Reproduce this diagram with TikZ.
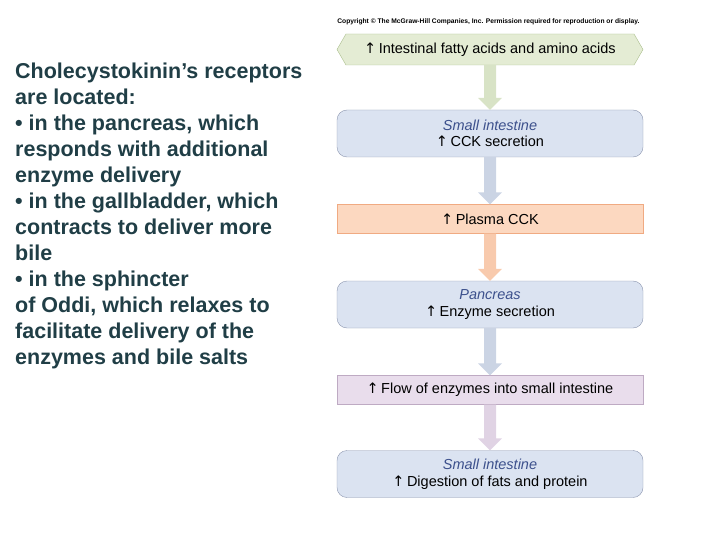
\documentclass[tikz,border=0pt]{standalone}
\usepackage{fontspec}
\setmainfont{Liberation Sans}
\newfontfamily\arrowfont{DejaVu Sans}
\usetikzlibrary{positioning,shapes.symbols,calc}
\definecolor{greenfill}{RGB}{228,236,212}
\definecolor{greenline}{RGB}{170,190,140}
\definecolor{bluefill}{RGB}{219,227,241}
\definecolor{blueline}{RGB}{140,150,175}
\definecolor{bluetext}{RGB}{60,80,140}
\definecolor{orangefill}{RGB}{252,216,192}
\definecolor{orangeline}{RGB}{240,170,130}
\definecolor{lilacfill}{RGB}{233,221,236}
\definecolor{lilacline}{RGB}{190,170,195}
\definecolor{tealtext}{RGB}{32,62,70}
\newcommand{\up}{{\arrowfont\char"2191}\,}
\newcommand{\flowarrow}[3]{%
  \fill[#3] ($(#1.south)+(-6,0)$) -- ($(#2.north)+(-6,-12)$) -- ($(#2.north)+(-12,-12)$)
    -- (#2.north) -- ($(#2.north)+(12,-12)$) -- ($(#2.north)+(6,-12)$) -- ($(#1.south)+(6,0)$) -- cycle;}

\begin{document}
\begin{tikzpicture}[x=1pt, y=-1pt,
    box/.style={minimum width=306, align=center, font=\fontsize{14.5}{16.5}\selectfont, inner sep=0},
    round box/.style={box, rounded corners=10, fill=bluefill, draw=blueline, minimum height=47},
    flat box/.style={box, minimum height=29},
    place/.style={font=\itshape, text=bluetext}]
    \useasboundingbox (0,0) rectangle (720,540);

    \node [font=\fontsize{6.7}{7}\selectfont, anchor=east] (copyright) at (643,22)
      {\textbf{Copyright \copyright\ The McGraw-Hill Companies, Inc. Permission required for reproduction or display.}};

    \node [box, signal, signal to=west and east, signal pointer angle=120, minimum height=31,
      fill=greenfill, draw=greenline] (acids) at (490,49.5) {\up Intestinal fatty acids and amino acids};
    \node [round box] (intestine1) at (490,133.5) {{\color{bluetext}\itshape Small intestine}\\ \up CCK secretion};
    \node [flat box, fill=orangefill, draw=orangeline] (plasma) at (490,219) {\up Plasma CCK};
    \node [round box] (pancreas) at (490,304.5) {{\color{bluetext}\itshape Pancreas}\\ \up Enzyme secretion};
    \node [flat box, fill=lilacfill, draw=lilacline] (flow) at (490,390) {\up Flow of enzymes into small intestine};
    \node [round box] (intestine2) at (490,474) {{\color{bluetext}\itshape Small intestine}\\ \up Digestion of fats and protein};

    \flowarrow{acids}{intestine1}{greenfill!80!greenline}
    \flowarrow{intestine1}{plasma}{bluefill!80!blueline}
    \flowarrow{plasma}{pancreas}{orangefill!70!orangeline}
    \flowarrow{pancreas}{flow}{bluefill!80!blueline}
    \flowarrow{flow}{intestine2}{lilacfill!80!lilacline}

    \node [anchor=north west, align=left, inner sep=0, text=tealtext,
      font=\bfseries\fontsize{21.5}{26}\selectfont] (receptors) at (15,63)
      {Cholecystokinin’s receptors\\ are located:\\ • in the pancreas, which\\ responds with additional\\
       enzyme delivery\\ • in the gallbladder, which\\ contracts to deliver more\\ bile\\ • in the sphincter\\
       of Oddi, which relaxes to\\ facilitate delivery of the\\ enzymes and bile salts};
\end{tikzpicture}
\end{document}
